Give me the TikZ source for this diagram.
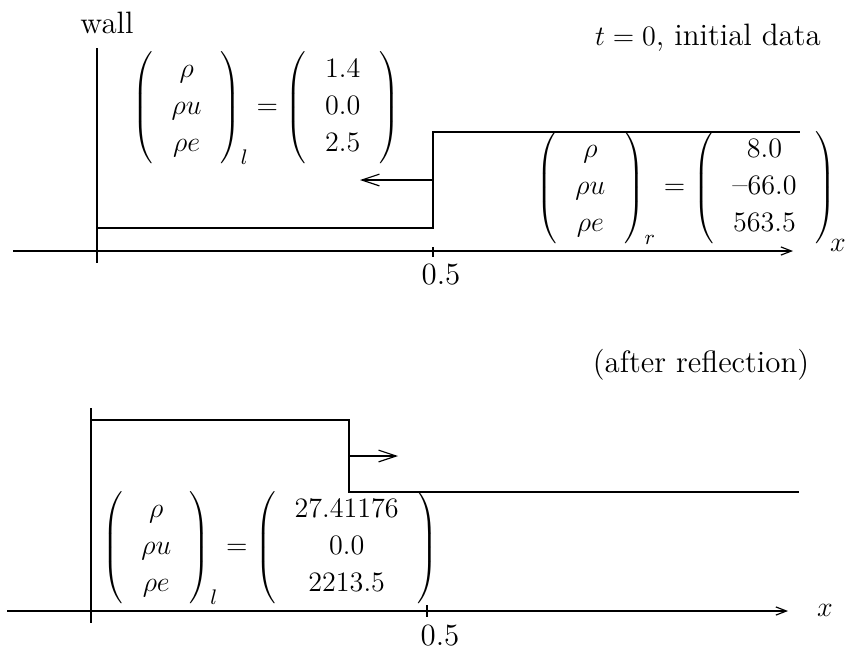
\documentclass[tikz,border=0pt]{standalone}
\usetikzlibrary{arrows.meta}
\setlength{\arraycolsep}{8pt}
\begin{document}
\begin{tikzpicture}[x=0.015cm,y=-0.015cm]
    \tikzset{lbl/.style = {inner sep=0pt,font=\fontsize{13.2}{15.8}\selectfont}, line/.style = {line width=.5pt}, axis/.style = {line width=.5pt,-{Straight Barb[length=4.5pt,width=3.5pt]}}, wave/.style = {line width=.5pt,-{Straight Barb[length=7.5pt,width=5pt]}}}
    \useasboundingbox (0,0) rectangle (846,656);
    % t = 0
    \def\ya{251}
    \coordinate (a0) at (13,\ya);
    \coordinate (a1) at (793,\ya);
    \coordinate (w0) at (97,48);
    \coordinate (w1) at (97,263);
    \coordinate (s0) at (97,228);
    \coordinate (s1) at (433,228);
    \coordinate (s2) at (433,132);
    \coordinate (s3) at (800,132);
    \coordinate (k0) at (433,247);
    \coordinate (k1) at (433,257);
    \coordinate (v0) at (433,180);
    \coordinate (v1) at (360,180);
    \draw[axis] (a0) -- (a1);
    \draw[line] (w0) -- (w1);
    \draw[line] (k0) -- (k1);
    \draw[line] (s0) -- (s1) -- (s2) -- (s3);
    \draw[wave] (v0) -- (v1);
    \node[lbl] (wall) at (107,23) {wall};
    \node[lbl] (tz) at (708,38) {$t=0$, initial data};
    \node[lbl] (xa) at (838,245) {$x$};
    \node[lbl] (ha) at (441,275) {0.5};
    \node[lbl] (ql) at (266,108) {$\left(\begin{array}{c}\rho\\ \rho u\\ \rho e\end{array}\right)_{l} = \left(\begin{array}{c}1.4\\ 0.0\\ 2.5\end{array}\right)$};
    \node[lbl] (qr) at (686,188) {$\left(\begin{array}{c}\rho\\ \rho u\\ \rho e\end{array}\right)_{r} = \left(\begin{array}{c}8.0\\ \mbox{--}66.0\\ 563.5\end{array}\right)$};
    % after reflection
    \def\yb{611}
    \coordinate (b0) at (7,\yb);
    \coordinate (b1) at (788,\yb);
    \coordinate (u0) at (91,408);
    \coordinate (u1) at (91,623);
    \coordinate (p0) at (91,420);
    \coordinate (p1) at (349,420);
    \coordinate (p2) at (349,492);
    \coordinate (p3) at (799,492);
    \coordinate (m0) at (427,605);
    \coordinate (m1) at (427,617);
    \coordinate (r0) at (349,456);
    \coordinate (r1) at (398,456);
    \draw[axis] (b0) -- (b1);
    \draw[line] (u0) -- (u1);
    \draw[line] (m0) -- (m1);
    \draw[line] (p0) -- (p1) -- (p2) -- (p3);
    \draw[wave] (r0) -- (r1);
    \node[lbl] (ar) at (701,365) {(after reflection)};
    \node[lbl] (xb) at (825,610) {$x$};
    \node[lbl] (hb) at (440,636) {0.5};
    \node[lbl] (qb) at (270,548) {$\left(\begin{array}{c}\rho\\ \rho u\\ \rho e\end{array}\right)_{l} = \left(\begin{array}{c}27.41176\\ 0.0\\ 2213.5\end{array}\right)$};
\end{tikzpicture}
\end{document}
